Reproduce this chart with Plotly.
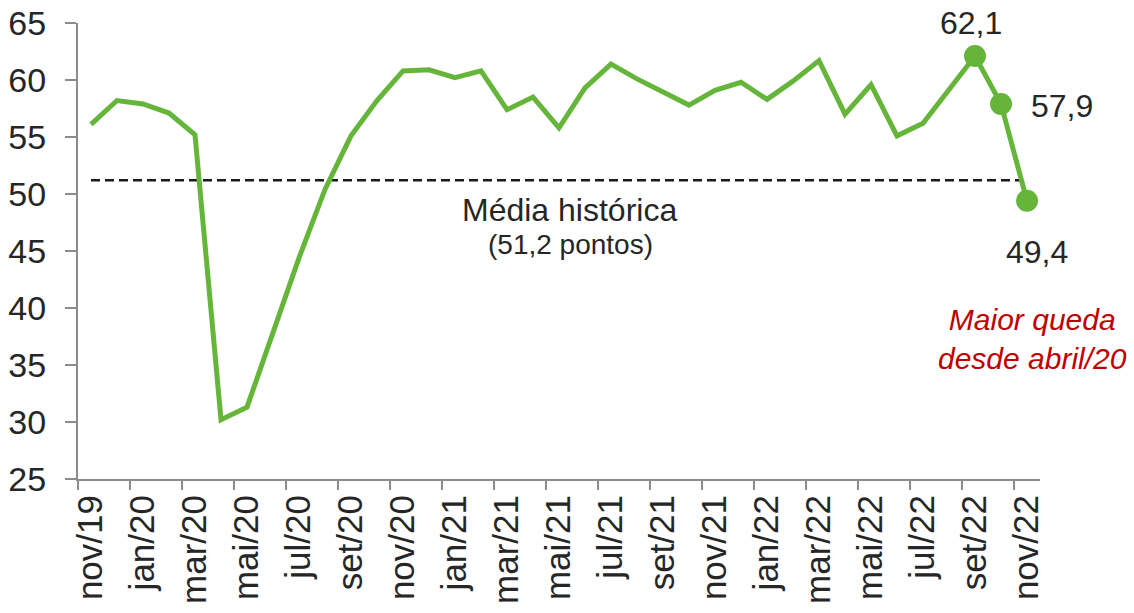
import plotly.graph_objects as go

months = ["nov/19", "dez/19", "jan/20", "fev/20", "mar/20", "abr/20", "mai/20", "jun/20",
          "jul/20", "ago/20", "set/20", "out/20", "nov/20", "dez/20", "jan/21", "fev/21",
          "mar/21", "abr/21", "mai/21", "jun/21", "jul/21", "ago/21", "set/21", "out/21",
          "nov/21", "dez/21", "jan/22", "fev/22", "mar/22", "abr/22", "mai/22", "jun/22",
          "jul/22", "ago/22", "set/22", "out/22", "nov/22"]
values = [56.1, 58.2, 57.9, 57.1, 55.2, 30.2, 31.3, 37.8, 44.4, 50.4, 55.1, 58.2,
          60.8, 60.9, 60.2, 60.8, 57.4, 58.5, 55.8, 59.3, 61.4, 60.1, 58.9, 57.8,
          59.1, 59.8, 58.3, 59.9, 61.7, 57.0, 59.6, 55.1, 56.2, 59.2, 62.1, 57.9, 49.4]
hist_mean = 51.2
y_ticks = [25, 30, 35, 40, 45, 50, 55, 60, 65]

GREEN = "#65B53A"
GRAY = "#8C8C8C"
TXT = "#262626"
FONT = "Liberation Sans, Arial, sans-serif"

n = len(values)
xs = list(range(n))
tick_idx = xs[::2]
tick_txt = [months[i] for i in tick_idx]
boundaries = [i - 0.5 for i in tick_idx]

fig = go.Figure()

# historical mean dashed line
fig.add_trace(go.Scatter(
    x=[xs[0], xs[-1] - 0.15], y=[hist_mean, hist_mean], mode="lines",
    line=dict(color="#1A1A1A", width=2.5, dash="9px,5px"), hoverinfo="skip",
    showlegend=False))

# main series
fig.add_trace(go.Scatter(
    x=xs, y=values, mode="lines",
    line=dict(color=GREEN, width=5), showlegend=False))

# highlighted last three points
fig.add_trace(go.Scatter(
    x=xs[-3:], y=values[-3:], mode="markers",
    marker=dict(color=GREEN, size=22), showlegend=False))

def fmt(v):
    return f"{v:.1f}".replace(".", ",")

shifts = [(-4, 33), (61, -2), (10, -51)]
for (i, (dx, dy)) in zip(xs[-3:], shifts):
    fig.add_annotation(x=i, y=values[i], text=fmt(values[i]), showarrow=False,
                       xshift=dx, yshift=dy, font=dict(family=FONT, size=32, color=TXT))

fig.add_annotation(x=18.4, y=48.6, text="Média histórica", showarrow=False,
                   font=dict(family=FONT, size=32, color=TXT))
fig.add_annotation(x=18.45, y=45.55, text="(" + fmt(hist_mean) + " pontos)", showarrow=False,
                   font=dict(family=FONT, size=28, color=TXT))
fig.add_annotation(x=36.2, y=37.3, text="<i>Maior queda<br>desde abril/20</i>", showarrow=False,
                   font=dict(family=FONT, size=30, color="#C00000"))

fig.update_layout(
    width=1134, height=613,
    margin=dict(l=78, r=94, t=23, b=134),
    paper_bgcolor="white", plot_bgcolor="white",
    showlegend=False,
    xaxis=dict(
        automargin=False,
        range=[-0.5, n - 0.5], tickmode="array", tickvals=tick_idx, ticktext=tick_txt,
        tickangle=-90, ticks="", showgrid=False, zeroline=False,
        showline=True, linecolor=GRAY, linewidth=2,
        tickfont=dict(family=FONT, size=35, color=TXT),
        minor=dict(tickmode="array", tickvals=boundaries, ticks="outside",
                   ticklen=9, tickwidth=2, tickcolor=GRAY, showgrid=False),
    ),
    yaxis=dict(
        automargin=False, ticklabeloverflow="allow", ticklabelstandoff=12,
        range=[25, 65], tickmode="array", tickvals=y_ticks, ticks="outside",
        ticklen=11, tickwidth=2, tickcolor=GRAY, showgrid=False, zeroline=False,
        showline=True, linecolor=GRAY, linewidth=2,
        tickfont=dict(family=FONT, size=34, color=TXT),
    ),
)

# remove the browser's default body margin so the figure fills the window exactly
fig.write_html("out.html", config={"displayModeBar": False},
               post_script="document.body.style.margin='0px';")
